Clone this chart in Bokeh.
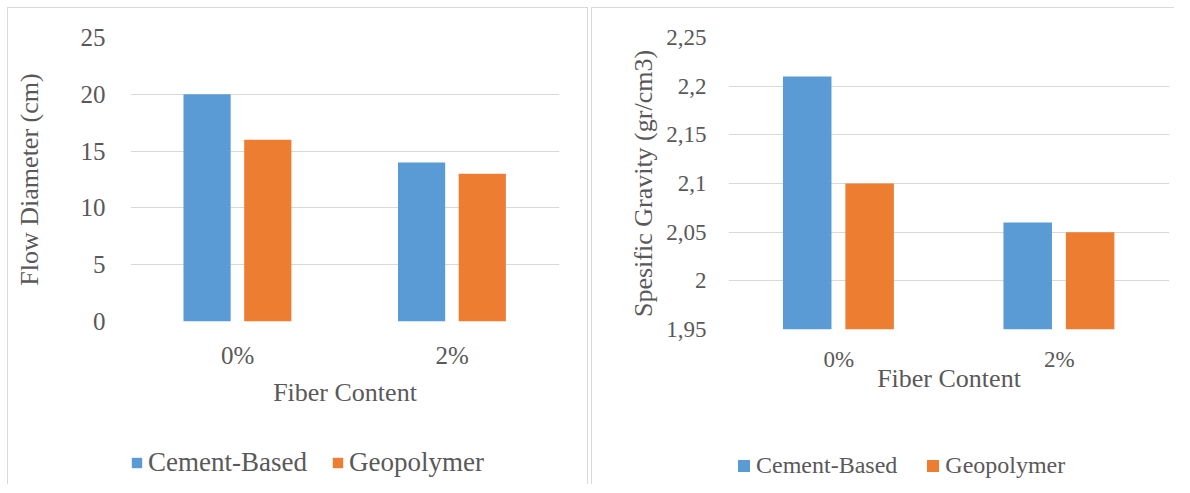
from bokeh.plotting import figure
from bokeh.models import (FactorRange, Range1d, FixedTicker, Legend, LegendItem,
                          ColumnDataSource)
from bokeh.transform import dodge
from bokeh.layouts import row, column
from bokeh.embed import file_html
from bokeh.resources import INLINE

# ---------------- data ----------------
categories = ["0%", "2%"]
series_names = ["Cement-Based", "Geopolymer"]
flow_cement = [20, 14]
flow_geo = [16, 13]
sg_cement = [2.21, 2.06]
sg_geo = [2.10, 2.05]
flow_ticks = [0, 5, 10, 15, 20, 25]
flow_tick_labels = ["0", "5", "10", "15", "20", "25"]
sg_ticks = [1.95, 2.0, 2.05, 2.1, 2.15, 2.2, 2.25]
sg_tick_labels = ["1,95", "2", "2,05", "2,1", "2,15", "2,2", "2,25"]
x_title = "Fiber Content"
flow_title = "Flow Diameter (cm)"
sg_title = "Spesific Gravity (gr/cm3)"

# ---------------- style ----------------
BLUE = "#5B9BD5"
ORANGE = "#ED7D31"
GRID = "#D9D9D9"
TEXT = "#595959"
FONT = "Liberation Serif"
COLORS = [BLUE, ORANGE]
FIELDS = ["cement", "geo"]
OFFSETS = [-0.143, 0.14]
BAR_W = 0.22


def make_chart(cement, geo, ticks, tick_labels, y_title, y_start, y_end,
               width, height, borders, tick_size, title_size,
               y_label_standoff, y_title_standoff, x_label_standoff,
               x_title_standoff):
    src = ColumnDataSource(dict(cat=categories, cement=cement, geo=geo,
                                base=[y_start] * len(categories)))
    p = figure(x_range=FactorRange(*categories),
               y_range=Range1d(y_start, y_end),
               width=width, height=height,
               output_backend="svg", toolbar_location=None,
               min_border_left=borders[0], min_border_right=borders[1],
               min_border_top=borders[2], min_border_bottom=borders[3])
    for fld, col, off in zip(FIELDS, COLORS, OFFSETS):
        p.vbar(x=dodge("cat", off, range=p.x_range), top=fld,
               bottom="base", width=BAR_W, source=src, fill_color=col,
               line_color=None)

    p.outline_line_color = None
    p.background_fill_color = "white"
    p.border_fill_color = "white"
    p.xgrid.grid_line_color = None
    p.ygrid.ticker = FixedTicker(ticks=ticks)
    p.ygrid.grid_line_color = GRID
    p.ygrid.grid_line_width = 1

    for ax in (p.xaxis[0], p.yaxis[0]):
        ax.axis_line_color = None
        ax.major_tick_line_color = None
        ax.minor_tick_line_color = None
        ax.major_tick_out = 0
        ax.major_tick_in = 0
        ax.major_label_text_font = FONT
        ax.major_label_text_color = TEXT
        ax.major_label_text_font_size = tick_size
        ax.axis_label_text_font = FONT
        ax.axis_label_text_color = TEXT
        ax.axis_label_text_font_size = title_size
        ax.axis_label_text_font_style = "normal"

    p.yaxis.ticker = FixedTicker(ticks=ticks)
    p.yaxis.major_label_overrides = dict(zip(ticks, tick_labels))
    p.yaxis.axis_label = y_title
    p.yaxis.major_label_standoff = y_label_standoff
    p.yaxis.axis_label_standoff = y_title_standoff

    p.xaxis.axis_label = x_title
    p.xaxis.major_label_standoff = x_label_standoff
    p.xaxis.axis_label_standoff = x_title_standoff
    return p, src


def make_legend(src, width, height, loc, font_size, glyph, spacing):
    # legend strip below the chart; its range holds none of the categories,
    # so its bars are never painted and only the legend swatches show
    q = figure(width=width, height=height, x_range=FactorRange("legend"),
               y_range=Range1d(-100000, -99999), x_axis_type=None,
               y_axis_type=None, output_backend="svg",
               toolbar_location=None, min_border=0)
    q.outline_line_color = None
    q.xgrid.visible = False
    q.ygrid.visible = False
    items = []
    for name, fld, col, off in zip(series_names, FIELDS, COLORS, OFFSETS):
        r = q.vbar(x=dodge("cat", off, range=q.x_range), top=fld,
                   bottom="base", width=BAR_W, source=src, fill_color=col,
                   line_color=None)
        items.append(LegendItem(label=name, renderers=[r]))
    legend = Legend(items=items, orientation="horizontal", location=loc)
    legend.label_text_font = FONT
    legend.label_text_color = TEXT
    legend.label_text_font_size = font_size
    legend.glyph_width = glyph
    legend.glyph_height = glyph
    legend.label_standoff = 5
    legend.spacing = spacing
    legend.padding = 0
    legend.margin = 0
    legend.border_line_color = None
    legend.background_fill_alpha = 0
    legend.click_policy = "none"
    q.add_layout(legend, "center")
    return q


left_chart, left_src = make_chart(
    flow_cement, flow_geo, flow_ticks, flow_tick_labels, flow_title, 0, 25,
    width=579, height=420, borders=(122, 28, 29, 107),
    tick_size="25px", title_size="26px",
    y_label_standoff=25, y_title_standoff=34,
    x_label_standoff=20, x_title_standoff=6)
left_leg = make_legend(left_src, 579, 56, (0, 6), "27px", 13, 24)

right_chart, right_src = make_chart(
    sg_cement, sg_geo, sg_ticks, sg_tick_labels, sg_title, 1.95, 2.25,
    width=582, height=420, borders=(136, 5, 29, 99),
    tick_size="23px", title_size="26px",
    y_label_standoff=22, y_title_standoff=5,
    x_label_standoff=17, x_title_standoff=-11)
right_leg = make_legend(right_src, 582, 56, (8, 5), "24px", 15, 28)

left_panel = column(left_chart, left_leg, spacing=0,
                    styles={"border-left": "1px solid #D9D9D9",
                            "border-top": "1px solid #D9D9D9",
                            "border-right": "1px solid #D9D9D9"})
right_panel = column(right_chart, right_leg, spacing=0,
                     styles={"border-left": "1px solid #D9D9D9",
                             "border-top": "1px solid #D9D9D9"})

layout = row(left_panel, right_panel, spacing=3,
             styles={"margin-left": "7px", "margin-top": "7px"})
open("out.html", "w").write(file_html(layout, INLINE))
